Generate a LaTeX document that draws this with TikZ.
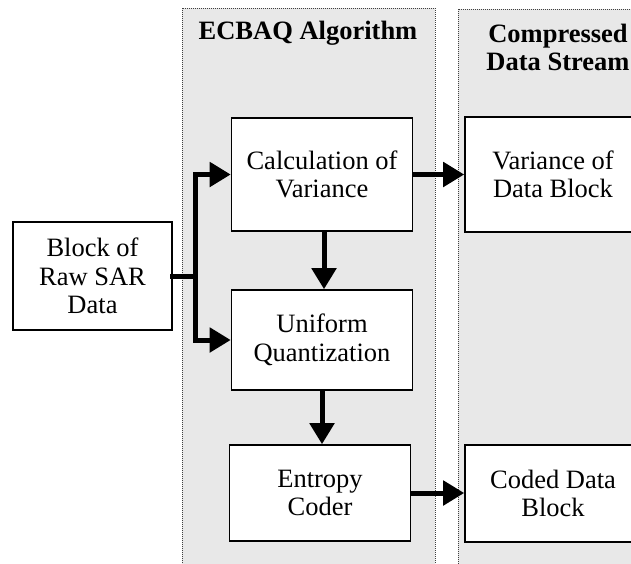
\documentclass[tikz,border=0pt]{standalone}
\usepackage{fontspec}
\setmainfont{Liberation Serif}
\usetikzlibrary{arrows.meta}
\begin{document}
\begin{tikzpicture}[x=1pt,y=-1pt,
  panel/.style={fill=black!9,draw=black!75,densely dotted,line width=1pt},
  blk/.style={draw=black,fill=white,line width=1.6pt,align=center,inner sep=0pt,
    font=\fontsize{26.5}{28.5}\selectfont},
  ttl/.style={align=center,font=\fontsize{26.5}{28}\selectfont\bfseries},
  link/.style={line width=5pt,line cap=rect},
  arr/.style={line width=5pt,-{Triangle[length=21pt,width=24pt]}}]
\useasboundingbox (0,0) rectangle (631,563);
\clip (0,0) rectangle (631,563);
\fill[white] (0,0) rectangle (631,563);
% panels
\path[panel] (182,8) rectangle (435,575);
\path[panel] (458,9) rectangle (680,575);
\node[ttl] (t1) at (308,33) {ECBAQ Algorithm};
\node[ttl] (t2) at (558,47) {Compressed\\Data Stream};
% boxes
\node[blk,minimum width=159pt,minimum height=108pt] (raw) at (92.5,276) {Block of\\Raw SAR\\Data};
\node[blk,minimum width=181pt,minimum height=113pt] (calc) at (322,174.5) {Calculation of\\Variance};
\node[blk,minimum width=181pt,minimum height=100pt] (quant) at (322,340) {Uniform\\Quantization};
\node[blk,minimum width=181pt,minimum height=96pt] (ent) at (320,493) {Entropy\\Coder};
\node[blk,minimum width=176pt,minimum height=115pt] (var) at (553,174.5) {Variance of\\Data Block};
\node[blk,minimum width=176pt,minimum height=97pt] (coded) at (553,493.5) {Coded Data\\Block};
% connectors
\coordinate (split) at (195,276);
\draw[link] (raw.east) -- (split);
\draw[arr] (split) |- (calc.west);
\draw[arr] (split) |- (quant.west);
\draw[arr] ([xshift=2pt]calc.south) -- ([xshift=2pt]calc.south |- quant.north);
\draw[arr] (quant.south) -- (quant.south |- ent.north);
\draw[arr] (calc.east) -- (calc.east -| var.west);
\draw[arr] (ent.east) -- (ent.east -| coded.west);
\end{tikzpicture}
\end{document}
